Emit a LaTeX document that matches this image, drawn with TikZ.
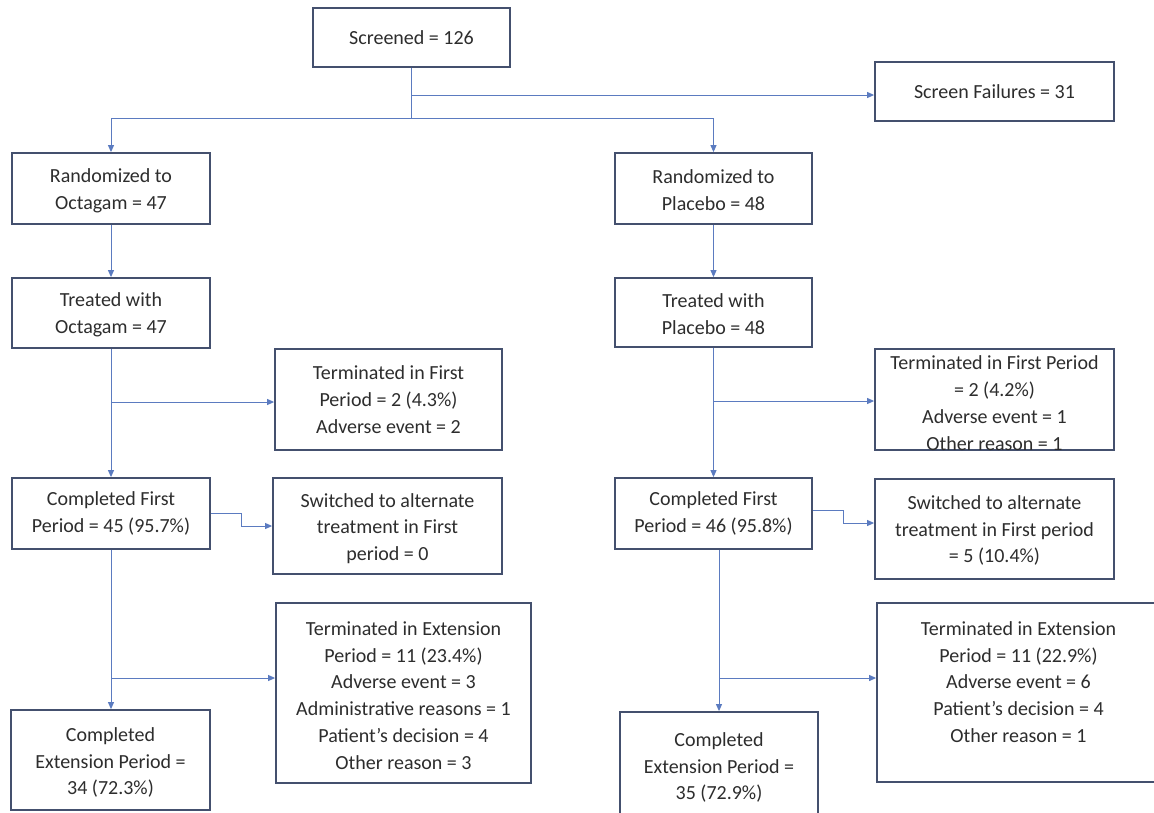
\documentclass[tikz,border=0pt]{standalone}
\usepackage{fontspec}
\setmainfont{Carlito}
\usetikzlibrary{arrows.meta}
\definecolor{boxc}{RGB}{68,80,110}
\definecolor{linec}{RGB}{91,123,192}
\definecolor{txtc}{RGB}{45,45,45}
\tikzset{
  box/.style={draw=boxc, line width=1.8pt, fill=white, rectangle, align=center, inner sep=0pt,
    text=txtc, font=\fontsize{20}{26.8}\selectfont},
  txt/.style={align=center, inner sep=0pt, text=txtc, font=\fontsize{20}{26.8}\selectfont},
  conn/.style={draw=linec, line width=1pt},
  arr/.style={conn, -{Triangle[length=7pt,width=6pt]}}
}
\begin{document}
\begin{tikzpicture}[x=1pt,y=-1pt]
\clip (0,0) rectangle (1154,812);
\fill[white] (0,0) rectangle (1154,812);

% boxes
\node[box, minimum width=197, minimum height=59] (scr) at (411.5,37.5) {Screened = 126};
\node[box, minimum width=239, minimum height=59] (sf) at (994.5,91.5) {Screen Failures = 31};
\node[box, minimum width=198, minimum height=71] (ro) at (111,188.5) {};
\node[txt] (rot) at (111,190.5) {Randomized to\\Octagam = 47};
\node[box, minimum width=197, minimum height=71] (rp) at (713.5,188.5) {};
\node[txt] (rpt) at (713.5,190.5) {Randomized to\\Placebo = 48};
\node[box, minimum width=198, minimum height=70] (to) at (111,313) {};
\node[txt] (tot) at (111,315) {Treated with\\Octagam = 47};
\node[box, minimum width=197, minimum height=69] (tp) at (713.5,312.5) {};
\node[txt] (tpt) at (713.5,314.5) {Treated with\\Placebo = 48};
\node[box, minimum width=227, minimum height=101] (tfo) at (388.5,399.5) {Terminated in First\\Period = 2 (4.3\%)\\Adverse event = 2};
\node[box, minimum width=239, minimum height=101] (tfp) at (994.5,399.5) {};
\node[txt] (tfpt) at (994.5,403) {Terminated in First Period\\= 2 (4.2\%)\\Adverse event = 1\\Other reason = 1};
\node[box, minimum width=198, minimum height=71] (cfo) at (111,513.5) {Completed First\\Period = 45 (95.7\%)};
\node[box, minimum width=197, minimum height=71] (cfp) at (713.5,513.5) {Completed First\\Period = 46 (95.8\%)};
\node[box, minimum width=229, minimum height=96] (swo) at (387.5,526) {};
\node[txt] (swot) at (387.5,528.5) {Switched to alternate\\treatment in First\\period = 0};
\node[box, minimum width=239, minimum height=100] (swp) at (994.5,529) {};
\node[txt] (swpt) at (994.5,530.5) {Switched to alternate\\treatment in First period\\= 5 (10.4\%)};
\node[box, minimum width=255, minimum height=180] (teo) at (403.5,693) {};
\node[txt] (teot) at (403.5,695.5) {Terminated in Extension\\Period = 11 (23.4\%)\\Adverse event = 3\\Administrative reasons = 1\\Patient's decision = 4\\Other reason = 3};
\node[box, minimum width=283, minimum height=179] (tep) at (1018.5,692.5) {};
\node[txt] (tept) at (1018.5,682) {Terminated in Extension\\Period = 11 (22.9\%)\\Adverse event = 6\\Patient's decision = 4\\Other reason = 1};
\node[box, minimum width=199, minimum height=100] (ceo) at (110.5,760) {};
\node[txt] (ceot) at (110.5,762.5) {Completed\\Extension Period =\\34 (72.3\%)};
\node[box, minimum width=198, minimum height=110] (cep) at (719,767) {};
\node[txt] (cept) at (719,767.5) {Completed\\Extension Period =\\35 (72.9\%)};

% connectors
\coordinate (jscr) at (411.5,118);
\coordinate (jsf) at (411.5,95);
\draw[conn] (scr.south) -- (jscr);
\draw[arr] (jsf) -- (jsf -| sf.west);
\draw[arr] (jscr) -| (ro.north);
\draw[arr] (jscr) -| (rp.north);
\draw[arr] (ro) -- (to);
\draw[arr] (rp) -- (tp);
\draw[arr] (to) -- (cfo);
\draw[arr] (tp) -- (cfp);
\coordinate (b1) at (111,402);
\draw[arr] (b1) -- (b1 -| tfo.west);
\coordinate (b2) at (713.5,401);
\draw[arr] (b2) -- (b2 -| tfp.west);
\draw[arr] (cfo.east) -- ++(31,0) |- (swo.west);
\draw[arr] ([yshift=3.5pt]cfp.east) -- ++(31,0) |- ([yshift=6pt]swp.west);
\draw[arr] (cfo.south) -- (cfo.south |- ceo.north);
\draw[arr] (cfp.south -| cep.north) -- (cep.north);
\coordinate (b3) at (111,678);
\draw[arr] (b3) -- (b3 -| teo.west);
\coordinate (b4) at (719,678);
\draw[arr] (b4) -- (b4 -| tep.west);
\end{tikzpicture}
\end{document}
